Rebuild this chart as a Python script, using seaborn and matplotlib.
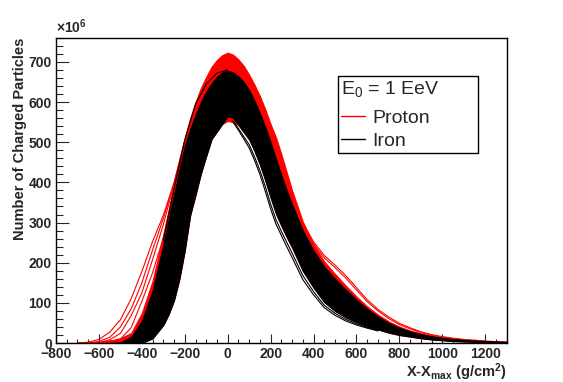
import matplotlib
matplotlib.use("Agg")
import matplotlib.pyplot as plt
from matplotlib.lines import Line2D
from matplotlib.ticker import MultipleLocator
import seaborn as sns

# ---- data (values in units of 10^6 particles) ----
x_grid = [-800, -750, -700, -650, -600, -550, -500, -450, -400, -350, -300,
          -275, -250, -225, -200, -175, -150, -125, -100, -75, -50, -25, 0,
          25, 50, 75, 100, 125, 150, 175, 200, 225, 250, 275,
          300, 350, 400, 450, 500, 550, 600, 650, 700, 750, 800, 850, 900,
          950, 1000, 1050, 1100, 1150, 1200, 1250, 1300]

# envelope of the iron showers (black band)
iron_upper = [0, 0, 0, 0, 0, 0, 2, 15, 55, 130, 245,
              308, 370, 432, 490, 532, 568, 600, 626, 647, 663, 674, 678,
              674, 664, 650, 630, 603, 572, 538, 500, 458, 418, 380,
              345, 280, 230, 190, 160, 133, 108, 85, 66, 50, 38, 29, 22,
              17, 13, 10, 8, 6, 5, 4, 3]
iron_lower = [0, 0, 0, 0, 0, 0, 0, 0, 0, 12, 45,
              72, 107, 160, 231, 318, 369, 422, 466, 508, 527, 546, 565,
              561, 543, 525, 507, 478, 445, 405, 362, 322, 292, 264,
              238, 180, 138, 102, 80, 64, 52, 42, 34, 26, 20, 16, 12,
              9, 7, 5, 4, 3, 2, 1, 1]

# envelope of the proton showers (red band)
proton_upper = [0, 0, 0, 0, 2, 6, 12, 25, 75, 155, 270,
                332, 395, 455, 512, 560, 600, 635, 663, 688, 705, 717, 723,
                718, 706, 690, 668, 643, 615, 582, 545, 512, 470, 425,
                380, 302, 245, 203, 172, 143, 116, 91, 71, 54, 41, 31, 24,
                18, 14, 11, 8, 6, 5, 4, 3]
proton_lower = [0, 0, 0, 0, 0, 0, 0, 0, 0, 12, 45,
                72, 107, 160, 231, 318, 369, 422, 466, 508, 527, 546, 553,
                550, 543, 525, 507, 478, 445, 405, 362, 322, 292, 264,
                238, 180, 138, 102, 80, 64, 52, 42, 34, 26, 20, 16, 12,
                9, 7, 5, 4, 3, 2, 1, 1]

# single proton showers outside the band (early side)
px_early = [-700, -650, -600, -550, -500, -450, -400, -350, -300, -250, -200]
proton_early = [
    [0, 2, 9, 27, 58, 110, 178, 253, 318, 400, 505],
    [0, 0, 4, 14, 40, 85, 150, 232, 310, 398, 502],
    [0, 0, 1, 8, 24, 68, 125, 208, 295, 395, 500],
    [0, 0, 0, 3, 10, 38, 104, 175, 262, 382, 495],
]
# single proton showers outside the band (late side)
px_late = [350, 400, 450, 500, 550, 600, 650, 700, 750, 800, 850, 900, 950,
           1000, 1050, 1100, 1200, 1300]
proton_late = [
    [300, 252, 218, 194, 168, 138, 108, 84, 65, 49, 38, 28, 21, 16, 12, 9, 5, 2],
    [298, 247, 212, 188, 162, 132, 103, 80, 61, 46, 35, 26, 19, 14, 11, 8, 4, 2],
]

# single iron showers off the band
fe_late_x = [25, 50, 75, 100, 125, 150, 175, 200, 225, 250, 275, 300, 350,
             400, 450, 500, 550, 600, 650, 700]
iron_late = [
    [553, 534, 514, 494, 464, 430, 390, 346, 307, 278, 251, 224, 168, 128,
     94, 74, 59, 48, 39, 32],
    [550, 530, 508, 486, 455, 420, 378, 334, 296, 268, 240, 213, 158, 120,
     88, 69, 55, 45, 37, 30],
]
fe_early_x = [-300, -250, -200, -150, -100, -50, 0]
iron_early = [255, 385, 505, 595, 645, 672, 680]

# ---- style ----
sns.set_style("ticks")
plt.rcParams["font.family"] = ["Liberation Sans", "DejaVu Sans"]
plt.rcParams["font.weight"] = "bold"
plt.rcParams["axes.labelweight"] = "bold"
plt.rcParams["mathtext.default"] = "regular"

fig = plt.figure(figsize=(5.63, 3.82), dpi=100)
ax = fig.add_axes([0.0995, 0.102, 0.8005, 0.799])

# proton band + stray proton curves
ax.fill_between(x_grid, proton_lower, proton_upper, color="red", lw=0.8, zorder=1)
for ys in proton_early:
    sns.lineplot(x=px_early, y=ys, color="red", lw=0.8, ax=ax, sort=False,
                 estimator=None, zorder=1.5)
for ys in proton_late:
    sns.lineplot(x=px_late, y=ys, color="red", lw=0.8, ax=ax, sort=False,
                 estimator=None, zorder=1.5)

# iron band + stray iron curves
ax.fill_between(x_grid, iron_lower, iron_upper, color="black", lw=0.8, zorder=2)
for ys in iron_late:
    sns.lineplot(x=fe_late_x, y=ys, color="black", lw=0.8, ax=ax, sort=False,
                 estimator=None, zorder=2.5)
sns.lineplot(x=fe_early_x, y=iron_early, color="black", lw=0.8, ax=ax,
             sort=False, estimator=None, zorder=2.5)

# ---- axes ----
ax.set_xlim(-800, 1300)
ax.set_ylim(0, 760)
ax.xaxis.set_major_locator(MultipleLocator(200))
ax.xaxis.set_minor_locator(MultipleLocator(50))
ax.yaxis.set_major_locator(MultipleLocator(100))
ax.yaxis.set_minor_locator(MultipleLocator(20))
ax.tick_params(axis="x", which="major", direction="in", length=6.5, width=0.8,
               top=False, labelsize=10, pad=3)
ax.tick_params(axis="x", which="minor", direction="in", length=3.2, width=0.8,
               top=False)
ax.tick_params(axis="y", which="major", direction="in", length=9.7, width=0.8,
               right=False, labelsize=10, pad=3)
ax.tick_params(axis="y", which="minor", direction="in", length=4.9, width=0.8,
               right=False)
for sp in ax.spines.values():
    sp.set_visible(True)
    sp.set_linewidth(1.0)
    sp.set_color("black")

ax.set_xlabel("X-X$_{max}$ (g/cm$^{2}$)", fontsize=10.5, loc="right")
ax.xaxis.set_label_coords(1.0, -0.06)
ax.set_ylabel("Number of Charged Particles", fontsize=10.5, loc="top")
ax.yaxis.set_label_coords(-0.064, 1.0)

ax.text(0.0, 1.006, "\u00d710$^{6}$", transform=ax.transAxes, fontsize=10,
        ha="left", va="bottom")

# ---- legend ----
handles = [Line2D([], [], color="red", lw=1), Line2D([], [], color="black", lw=1)]
leg = ax.legend(handles, ["Proton", "Iron"], title="E$_0$ = 1 EeV",
                loc="upper left",
                bbox_to_anchor=(337.7 / 563, (382 - 152.3) / 382,
                                140.6 / 563, 76.3 / 382),
                bbox_transform=fig.transFigure, borderaxespad=0, mode="expand",
                frameon=True, fancybox=False, framealpha=1, edgecolor="black",
                prop={"size": 14, "weight": "normal"},
                title_fontproperties={"size": 14, "weight": "normal"},
                alignment="left", borderpad=0.15, handlelength=1.25,
                handletextpad=0.4, labelspacing=0.3)
leg._legend_box.sep = 0.3 * 14 + 3
leg.get_frame().set_linewidth(1.0)

fig.savefig("out.png", dpi=100, facecolor="white")
